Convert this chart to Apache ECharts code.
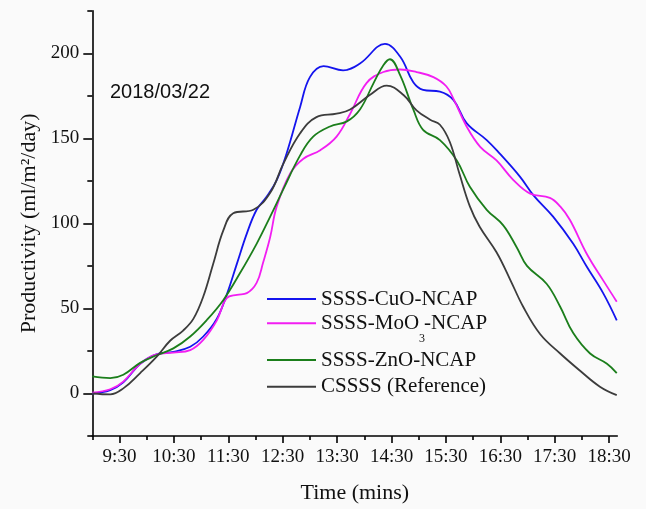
<!DOCTYPE html>
<html>
<head>
<meta charset="utf-8">
<script src="https://cdn.jsdelivr.net/npm/echarts@6/dist/echarts.min.js"></script>
<style>
html,body{margin:0;padding:0;background:#ffffff;}
#chart{width:646px;height:509px;}
</style>
</head>
<body>
<div id="chart"></div>
<script>
// ---- data (time in decimal hours, productivity in ml/m2/day) ----
const seriesNames = ['SSSS-CuO-NCAP', 'SSSS-MoO3-NCAP', 'SSSS-ZnO-NCAP', 'CSSSS (Reference)'];

const cuTimes  = [9.00,9.33,9.57,9.88,10.18,10.49,10.80,11.04,11.29,11.47,11.66,11.84,12.02,12.20,12.39,12.57,12.82,13.00,13.25,13.61,13.92,14.38,14.66,14.90,15.08,15.39,15.64,15.88,16.25,16.49,16.86,17.11,17.47,17.84,18.09,18.39,18.64];
const cuValues = [0,2,6.5,17.5,23,24.5,27.5,33.5,44,58,76.5,94,108,115.5,125.5,141,168.5,186,192.5,190,194,205.5,198,183,178.5,177.5,172.5,159,149,141,127.5,116.5,104,88,74.5,59,43];

const moTimes  = [9.00,9.33,9.57,9.88,10.18,10.49,10.80,11.04,11.29,11.47,11.66,11.84,12.02,12.14,12.27,12.39,12.64,12.88,13.19,13.49,13.74,14.04,14.35,14.66,14.96,15.27,15.51,15.65,15.88,16.13,16.43,16.74,17.05,17.41,17.60,17.78,18.09,18.39,18.64];
const moValues = [0.5,2.5,7,17.5,23,24,25.5,31.5,43,56,58,59,65,77,92,110,129.5,138,143,151,164.5,182.5,189,190.5,189,186,180.5,172.5,157,145,137,125.5,117.5,115,110,102,82,66.5,54];

const znTimes  = [9.00,9.33,9.57,9.88,10.18,10.49,10.80,11.10,11.41,11.71,12.02,12.27,12.51,12.82,13.06,13.37,13.68,13.92,14.17,14.35,14.47,14.66,14.90,15.08,15.39,15.70,15.94,16.25,16.55,16.80,16.99,17.35,17.60,17.84,18.15,18.46,18.64];
const znValues = [10,9,11,18,22.5,26.5,33.5,43,55,70.5,88,104,120,140,151,157,160,167,182.5,193,196.5,187,167,155,149,137,121.5,108,99,86,75,64.5,51,35.5,23.5,17.5,12];

const refTimes  = [9.00,9.33,9.57,9.88,10.18,10.43,10.67,10.86,11.04,11.22,11.41,11.59,11.96,12.27,12.51,12.82,13.12,13.49,13.74,14.10,14.41,14.72,14.96,15.21,15.39,15.57,15.75,15.94,16.12,16.43,16.68,16.92,17.23,17.60,17.96,18.33,18.64];
const refValues = [0,-0.5,3,12,21.5,31,37,44,57,76,96,106,108,118,135,153,162.5,164.5,167,175.5,181,175.5,166.5,161,158,148,129,110,98,83,67,51,35,23.5,13.5,4,-1];

const xLabelValues = [9.5,10.5,11.5,12.5,13.5,14.5,15.5,16.5,17.5,18.5];
const xTickLabels  = ['9:30','10:30','11:30','12:30','13:30','14:30','15:30','16:30','17:30','18:30'];
const xMinorTicks  = [9,10,11,12,13,14,15,16,17,18];
const yTickLabels  = [0,50,100,150,200];
const yMinorTicks  = [-25,25,75,125,175,225];
const dateText = '2018/03/22';

// ---- chart ----
const zip = (t, v) => t.map((x, i) => [x, v[i]]);
const colors = ['#1414ee', '#f21ef2', '#1b7e1b', '#3c3c3c'];
const serif = 'Liberation Serif, Times New Roman, serif';

const chart = echarts.init(document.getElementById('chart'), null, {renderer: 'canvas'});

function legendAt(name, top, extra) {
  return Object.assign({
    data: [name],
    left: 267,
    top: top,
    padding: 0,
    itemWidth: 49,
    itemHeight: 2,
    itemGap: 0,
    icon: 'rect',
    selectedMode: false,
    textStyle: {fontFamily: serif, fontSize: 21, color: '#111', lineHeight: 21}
  }, extra || {});
}

const lineSeries = (name, data, color) => ({
  name: name,
  type: 'line',
  data: data,
  smooth: 0.4,
  showSymbol: false,
  symbol: 'none',
  xAxisIndex: 0,
  yAxisIndex: 0,
  lineStyle: {width: 1.8, color: color},
  itemStyle: {color: color}
});

const option = {
  backgroundColor: '#fafafa',
  animation: false,
  grid: {left: 92.3, right: 28.7, top: 10.8, bottom: 73, containLabel: false},
  legend: [
    legendAt(seriesNames[0], 288.5),
    legendAt(seriesNames[1], 301.3, {
      formatter: () => '{main|SSSS-MoO}{sub|3}{main|-NCAP}',
      textStyle: {fontFamily: serif, fontSize: 21, color: '#111', lineHeight: 21,
        rich: {
          main: {fontFamily: serif, fontSize: 21, color: '#111', lineHeight: 21},
          sub: {fontFamily: serif, fontSize: 12, lineHeight: 12, color: '#111', width: 5, padding: [32, 0, 0, 0]}
        }}
    }),
    legendAt(seriesNames[2], 349.5),
    legendAt(seriesNames[3], 376.2)
  ],
  xAxis: [{
    type: 'value',
    min: 9, max: 18.65, interval: 0.5,
    position: 'bottom',
    splitLine: {show: false},
    axisLine: {show: true, onZero: false, lineStyle: {color: '#000', width: 1.6}},
    axisTick: {show: true, inside: false, length: 7, customValues: xLabelValues, lineStyle: {color: '#000', width: 1.6}},
    axisLabel: {
      customValues: xLabelValues,
      margin: 12,
      fontFamily: serif, fontSize: 19, color: '#111',
      formatter: v => { const i = xLabelValues.findIndex(x => Math.abs(x - v) < 1e-6); return i >= 0 ? xTickLabels[i] : ''; }
    },
    name: 'Time (mins)',
    nameLocation: 'middle',
    nameGap: 46,
    nameTextStyle: {fontFamily: serif, fontSize: 22, color: '#111'}
  }, {
    type: 'value',
    min: 9, max: 18.65, interval: 0.5,
    position: 'bottom',
    splitLine: {show: false},
    axisLine: {show: false, onZero: false},
    axisTick: {show: true, inside: false, length: 4, customValues: xMinorTicks, lineStyle: {color: '#000', width: 1.6}},
    axisLabel: {show: false}
  }],
  yAxis: [{
    type: 'value',
    min: -25, max: 225, interval: 25,
    position: 'left',
    splitLine: {show: false},
    axisLine: {show: true, onZero: false, lineStyle: {color: '#000', width: 1.6}},
    axisTick: {show: true, inside: false, length: 9, customValues: yTickLabels, lineStyle: {color: '#000', width: 1.6}},
    axisLabel: {
      customValues: yTickLabels,
      margin: 13,
      fontFamily: serif, fontSize: 19, color: '#111'
    },
    name: 'Productivity (ml/m²/day)',
    nameLocation: 'middle',
    nameGap: 48,
    nameTextStyle: {fontFamily: serif, fontSize: 22, color: '#111'}
  }, {
    type: 'value',
    min: -25, max: 225, interval: 25,
    position: 'left',
    splitLine: {show: false},
    axisLine: {show: false, onZero: false},
    axisTick: {show: true, inside: false, length: 5, customValues: yMinorTicks, lineStyle: {color: '#000', width: 1.6}},
    axisLabel: {show: false}
  }],
  graphic: [{
    type: 'text',
    left: 110,
    top: 82,
    style: {text: dateText, font: '20px "Liberation Sans", Arial, sans-serif', fill: '#111'}
  }],
  series: [
    lineSeries(seriesNames[0], zip(cuTimes, cuValues), colors[0]),
    lineSeries(seriesNames[1], zip(moTimes, moValues), colors[1]),
    lineSeries(seriesNames[2], zip(znTimes, znValues), colors[2]),
    lineSeries(seriesNames[3], zip(refTimes, refValues), colors[3])
  ]
};
chart.setOption(option);
</script>
</body>
</html>
